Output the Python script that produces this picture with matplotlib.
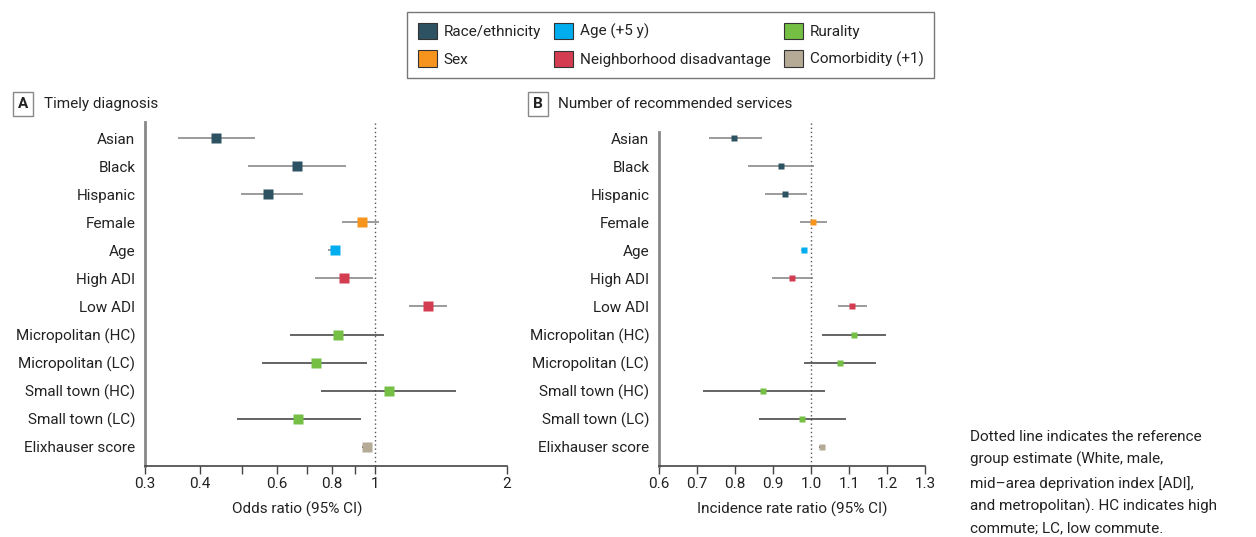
import matplotlib
matplotlib.use('Agg')
import matplotlib.pyplot as plt
from matplotlib.patches import Patch
from matplotlib.ticker import FixedLocator, NullLocator

plt.rcParams['font.family'] = ['Roboto', 'DejaVu Sans']

# row labels, top to bottom
labels = ['Asian', 'Black', 'Hispanic', 'Female', 'Age', 'High ADI', 'Low ADI',
          'Micropolitan (HC)', 'Micropolitan (LC)', 'Small town (HC)',
          'Small town (LC)', 'Elixhauser score']
groups = ['race', 'race', 'race', 'sex', 'age', 'adi', 'adi',
          'rural', 'rural', 'rural', 'rural', 'comorb']

# A: odds ratios for timely diagnosis
or_est = [0.435, 0.665, 0.573, 0.934, 0.814, 0.850, 1.32, 0.824, 0.734, 1.08, 0.670, 0.959]
or_lo = [0.356, 0.515, 0.495, 0.841, 0.783, 0.733, 1.197, 0.643, 0.554, 0.753, 0.485, 0.934]
or_hi = [0.535, 0.862, 0.685, 1.02, 0.835, 0.990, 1.463, 1.05, 0.962, 1.53, 0.931, 0.984]

# B: incidence rate ratios for number of recommended services
irr_est = [0.798, 0.922, 0.932, 1.006, 0.982, 0.950, 1.108, 1.113, 1.077, 0.874, 0.977, 1.029]
irr_lo = [0.731, 0.833, 0.878, 0.971, 0.973, 0.897, 1.071, 1.030, 0.982, 0.716, 0.864, 1.021]
irr_hi = [0.872, 1.009, 0.989, 1.042, 0.990, 1.006, 1.147, 1.197, 1.171, 1.036, 1.093, 1.036]

legend_names = ['Race/ethnicity', 'Sex', 'Age (+5 y)', 'Neighborhood disadvantage',
                'Rurality', 'Comorbidity (+1)']
legend_keys = ['race', 'sex', 'age', 'adi', 'rural', 'comorb']

colors = {'race': '#2d5362', 'sex': '#f7941d', 'age': '#00aeef',
          'adi': '#d43d51', 'rural': '#74bf44', 'comorb': '#b5aa96'}

FS = 11
W, H = 1256, 537
fig = plt.figure(figsize=(W / 100, H / 100), dpi=100)

def px_axes(x0, x1, y0, y1):
    return fig.add_axes([x0 / W, 1 - y1 / H, (x1 - x0) / W, (y1 - y0) / H])

def forest(ax, est, lo, hi, msize):
    n = len(labels)
    for i in range(n):
        lc = '#808080' if i < 7 else '#3a3a3a'
        ax.plot([lo[i], hi[i]], [i, i], color=lc, lw=1.1, solid_capstyle='butt', zorder=2)
        ax.plot(est[i], i, marker='s', ms=msize, color=colors[groups[i]],
                mec='none', zorder=3)
    ax.axvline(1, color='#555555', lw=1, ls=(0, (1, 2)), zorder=1)
    ax.set_ylim(n - 1 + 0.68, -0.57)
    ax.set_yticks(range(n))
    ax.set_yticklabels(labels, fontsize=FS, color='#222222')
    ax.tick_params(axis='y', length=0, pad=7)
    ax.tick_params(axis='x', length=6, width=1, color='#444444', labelsize=FS,
                   labelcolor='#222222', pad=2)
    for s in ['top', 'right']:
        ax.spines[s].set_visible(False)
    ax.spines['left'].set_color('#888888')
    ax.spines['left'].set_linewidth(2)
    ax.spines['bottom'].set_color('#444444')
    ax.spines['bottom'].set_linewidth(1.2)

# panel A
axA = px_axes(145, 507, 122, 466)
axA.set_xscale('log')
forest(axA, or_est, or_lo, or_hi, 6.5)
axA.set_xlim(0.3, 2)
axA.xaxis.set_major_locator(FixedLocator([0.3, 0.4, 0.5, 0.6, 0.7, 0.8, 0.9, 1, 2]))
axA.xaxis.set_minor_locator(NullLocator())
axA.set_xticklabels(['0.3', '0.4', '', '0.6', '', '0.8', '', '1', '2'])
axA.set_xlabel('Odds ratio (95% CI)', fontsize=FS, color='#222222')
axA.xaxis.set_label_coords(0.42, -0.105)

# panel B
axB = px_axes(659, 925, 122, 466)
forest(axB, irr_est, irr_lo, irr_hi, 4)
axB.set_xlim(0.6, 1.3)
axB.set_xticks([0.6, 0.7, 0.8, 0.9, 1.0, 1.1, 1.2, 1.3])
axB.set_xticklabels(['0.6', '0.7', '0.8', '0.9', '1.0', '1.1', '1.2', '1.3'])
axB.spines['left'].set_bounds(11.68, -0.2)
axB.set_xlabel('Incidence rate ratio (95% CI)', fontsize=FS, color='#222222')
axB.xaxis.set_label_coords(0.5, -0.105)

# panel titles
box = dict(boxstyle='square,pad=0.3', fc='white', ec='#888888', lw=1)
fig.text(23 / W, 1 - 104 / H, 'A', ha='center', va='center', fontsize=FS,
         fontweight='bold', color='#222222', bbox=box)
fig.text(44 / W, 1 - 104 / H, 'Timely diagnosis', ha='left', va='center',
         fontsize=FS, color='#222222')
fig.text(538 / W, 1 - 104 / H, 'B', ha='center', va='center', fontsize=FS,
         fontweight='bold', color='#222222', bbox=box)
fig.text(558 / W, 1 - 104 / H, 'Number of recommended services', ha='left',
         va='center', fontsize=FS, color='#222222')

# legend
handles = [Patch(facecolor=colors[k], edgecolor='#333333', lw=0.8) for k in legend_keys]
leg = fig.legend(handles, legend_names, ncol=3, loc='upper left',
                 bbox_to_anchor=(407 / W, 1 - 12 / H), borderaxespad=0,
                 fontsize=FS, frameon=True, fancybox=False, edgecolor='#555555',
                 handlelength=1.25, handleheight=1.25, handletextpad=0.45,
                 columnspacing=0.85, labelspacing=0.75, borderpad=0.7)
leg.get_frame().set_linewidth(1)
for t in leg.get_texts():
    t.set_color('#222222')

# footnote (runs off the bottom edge, as in the source)
note = ('Dotted line indicates the reference\n'
        'group estimate (White, male,\n'
        'mid\u2013area deprivation index [ADI],\n'
        'and metropolitan). HC indicates high\n'
        'commute; LC, low commute.')
fig.text(970 / W, 1 - 430 / H, note, ha='left', va='top', fontsize=FS,
         color='#222222', linespacing=1.68)

plt.savefig('out.png', dpi=100)
